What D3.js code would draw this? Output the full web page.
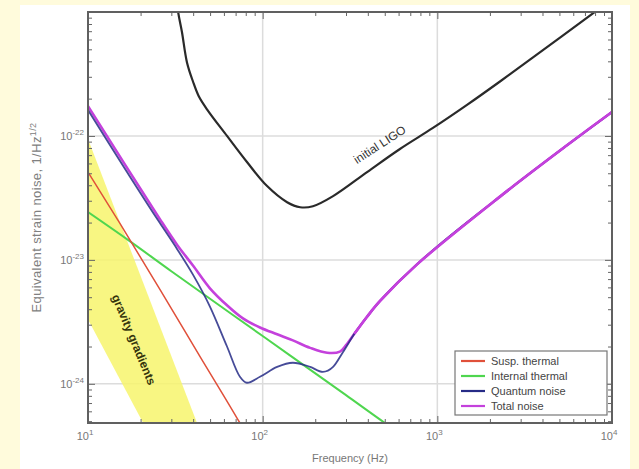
<!DOCTYPE html>
<html>
<head>
<meta charset="utf-8">
<script src="https://cdn.jsdelivr.net/npm/d3@7"></script>
<style>
  body { margin: 0; background: #fffbdc; }
  svg { display: block; font-family: "Liberation Sans", Arial, sans-serif; }
  .grid line { stroke: #dcdcdc; stroke-width: 1.5; }
  .axis path { display: none; }
  .axis line { stroke: #666; }
  .curve { fill: none; stroke-linejoin: round; stroke-linecap: round; }
</style>
</head>
<body>
<svg width="639" height="469"></svg>
<script>
// values (frequency in Hz, strain in 1/sqrt(Hz))
const initialFreq = [30, 32.7, 34.5, 36.9, 39.9, 43, 48, 62.5, 81.3, 106, 138, 164, 194, 253, 396, 611, 944, 1479, 2284, 3530, 8200, 9500];
const initialLIGO = [3e-21, 1.03e-21, 6.9e-22, 3.9e-22, 2.75e-22, 2.1e-22, 1.64e-22, 1.0e-22, 6.16e-23, 3.94e-23, 2.92e-23, 2.66e-23, 2.71e-23, 3.27e-23, 5.11e-23, 7.85e-23, 1.16e-22, 1.78e-22, 2.75e-22, 4.3e-22, 1.03e-21, 1.2e-21];

const totalFreq = [10, 25.8, 32.4, 39.9, 49.9, 62.5, 77.1, 96.5, 121, 149, 187, 234, 277, 300, 338, 396, 470, 765, 2284, 5525, 10000];
const totalNoise = [1.74e-22, 2.13e-23, 1.32e-23, 9.0e-24, 5.9e-24, 4.3e-24, 3.37e-24, 2.85e-24, 2.51e-24, 2.24e-24, 1.95e-24, 1.78e-24, 1.82e-24, 2.05e-24, 2.58e-24, 3.48e-24, 4.66e-24, 9.2e-24, 3.24e-23, 8.4e-23, 1.56e-22];

const quantumFreq = [10, 25.8, 32.4, 39.9, 49.9, 62.5, 74.1, 81.3, 96.5, 121, 149, 187, 221, 253, 288, 338, 396, 470, 765, 2284, 5525, 10000];
const quantumNoise = [1.62e-22, 1.98e-23, 1.22e-23, 7.6e-24, 4.2e-24, 2.0e-24, 1.14e-24, 1.02e-24, 1.14e-24, 1.37e-24, 1.48e-24, 1.37e-24, 1.25e-24, 1.37e-24, 1.8e-24, 2.58e-24, 3.48e-24, 4.66e-24, 9.2e-24, 3.24e-23, 8.4e-23, 1.56e-22];

const suspFreq = [10, 15.2, 25.8, 43.8, 74.1, 84.5];
const suspThermal = [5.11e-23, 1.98e-23, 5.77e-24, 1.66e-24, 4.83e-25, 3.5e-25];

const internalFreq = [10, 16.7, 30, 100, 300, 501, 600];
const internalThermal = [2.43e-23, 1.47e-23, 8.1e-24, 2.43e-24, 8.1e-25, 4.83e-25, 4.05e-25];

// gravity gradient band: upper edge then lower edge
const ggUpperFreq = [10, 42.1];
const ggUpper = [9.46e-23, 4.83e-25];
const ggLowerFreq = [10, 20.7];
const ggLower = [3.3e-24, 4.83e-25];

const legendNames = ["Susp. thermal", "Internal thermal", "Quantum noise", "Total noise"];
const legendColors = ["#e0503a", "#4fd64f", "#262b86", "#c441dc"];

const xDecades = [10, 100, 1000, 10000];
const xExps = ["1", "2", "3", "4"];
const yDecades = [1e-22, 1e-23, 1e-24];
const yExps = ["-22", "-23", "-24"];

const svg = d3.select("svg"),
    width = +svg.attr("width"),
    height = +svg.attr("height");

const mLeft = 88, mRight = 612, mTop = 12, mBottom = 423;

svg.append("rect").attr("width", width).attr("height", height).attr("fill", "#fffbdc");
svg.append("rect").attr("x", 20).attr("y", 5).attr("width", 610).attr("height", height - 5).attr("fill", "#fff");

const x = d3.scaleLog().domain([10, 1e4]).range([mLeft, mRight]);
const y = d3.scaleLog().domain([4.83e-25, 1e-21]).range([mBottom, mTop]);

svg.append("defs").append("clipPath").attr("id", "plot")
  .append("rect").attr("x", mLeft).attr("y", mTop).attr("width", mRight - mLeft).attr("height", mBottom - mTop);

// grid at the decades
const grid = svg.append("g").attr("class", "grid");
grid.selectAll(".gx").data(xDecades.slice(1, -1)).join("line")
    .attr("x1", d => x(d)).attr("x2", d => x(d)).attr("y1", mTop).attr("y2", mBottom);
grid.selectAll(".gy").data(yDecades).join("line")
    .attr("y1", d => y(d)).attr("y2", d => y(d)).attr("x1", mLeft).attr("x2", mRight);

const plot = svg.append("g").attr("clip-path", "url(#plot)");

// gravity gradients band
const bandPts = ggUpperFreq.map((f, i) => [f, ggUpper[i]])
    .concat(ggLowerFreq.map((f, i) => [f, ggLower[i]]).reverse());
plot.append("path")
    .attr("d", d3.line().x(d => x(d[0])).y(d => y(d[1]))(bandPts) + "Z")
    .attr("fill", "#f7f56c")
    .attr("opacity", 0.85);

plot.append("text")
    .attr("transform", "translate(133,340) rotate(67.5)")
    .attr("text-anchor", "middle")
    .attr("dominant-baseline", "middle")
    .attr("font-size", 12)
    .attr("font-weight", "bold")
    .attr("fill", "#35340c")
    .text("gravity gradients");

const line = d3.line().x(d => x(d[0])).y(d => y(d[1])).curve(d3.curveMonotoneX);
const smooth = d3.line().x(d => x(d[0])).y(d => y(d[1])).curve(d3.curveCatmullRom.alpha(0.5));
const zip = (fs, vs) => fs.map((f, i) => [f, vs[i]]);

plot.append("path").datum(zip(internalFreq, internalThermal)).attr("class", "curve")
    .attr("d", line).attr("stroke", legendColors[1]).attr("stroke-width", 2);
plot.append("path").datum(zip(suspFreq, suspThermal)).attr("class", "curve")
    .attr("d", line).attr("stroke", legendColors[0]).attr("stroke-width", 1.5);
plot.append("path").datum(zip(initialFreq, initialLIGO)).attr("class", "curve")
    .attr("d", smooth).attr("stroke", "#2a2a2a").attr("stroke-width", 2.2);
plot.append("path").datum(zip(totalFreq, totalNoise)).attr("class", "curve")
    .attr("d", smooth).attr("stroke", legendColors[3]).attr("stroke-width", 2.6);
plot.append("path").datum(zip(quantumFreq, quantumNoise)).attr("class", "curve")
    .attr("d", line).attr("stroke", legendColors[2]).attr("stroke-width", 1.8)
    .attr("opacity", 0.85);
// total noise on top where it equals quantum noise
plot.append("path").datum(zip(totalFreq, totalNoise).filter(d => d[0] >= 338)).attr("class", "curve")
    .attr("d", smooth).attr("stroke", legendColors[3]).attr("stroke-width", 2.6);

plot.append("text")
    .attr("transform", "translate(382,148) rotate(-33)")
    .attr("text-anchor", "middle")
    .attr("font-size", 12)
    .attr("fill", "#333")
    .text("initial LIGO");

// minor and major ticks on all four sides
const xt = x.ticks(), yt = y.ticks();
const isMajor = (d, dec) => dec.some(v => Math.abs(v / d - 1) < 1e-6);
svg.append("g").attr("class", "axis").attr("transform", `translate(0,${mBottom})`)
    .call(d3.axisBottom(x).tickValues(xt).tickFormat("").tickSize(-4))
    .selectAll(".tick line").filter(d => isMajor(d, xDecades)).attr("y2", -7);
svg.append("g").attr("class", "axis").attr("transform", `translate(0,${mTop})`)
    .call(d3.axisTop(x).tickValues(xt).tickFormat("").tickSize(-4))
    .selectAll(".tick line").filter(d => isMajor(d, xDecades)).attr("y2", 7);
svg.append("g").attr("class", "axis").attr("transform", `translate(${mLeft},0)`)
    .call(d3.axisLeft(y).tickValues(yt).tickFormat("").tickSize(-4))
    .selectAll(".tick line").filter(d => isMajor(d, yDecades)).attr("x2", 7);
svg.append("g").attr("class", "axis").attr("transform", `translate(${mRight},0)`)
    .call(d3.axisRight(y).tickValues(yt).tickFormat("").tickSize(-4))
    .selectAll(".tick line").filter(d => isMajor(d, yDecades)).attr("x2", -7);

svg.append("rect").attr("x", mLeft).attr("y", mTop).attr("width", mRight - mLeft).attr("height", mBottom - mTop)
    .attr("fill", "none").attr("stroke", "#606060").attr("stroke-width", 2);

// tick labels
const xl = svg.append("g").attr("fill", "#777").attr("font-size", 11);
xDecades.forEach((d, i) => {
  const t = xl.append("text").attr("x", x(d) - 3).attr("y", mBottom + 17).attr("text-anchor", "middle");
  t.append("tspan").text("10");
  t.append("tspan").attr("dy", -5).attr("font-size", 8).text(xExps[i]);
});
yDecades.forEach((d, i) => {
  const t = xl.append("text").attr("x", mLeft - 4).attr("y", y(d) + 4).attr("text-anchor", "end");
  t.append("tspan").text("10");
  t.append("tspan").attr("dy", -5).attr("font-size", 8).text(yExps[i]);
});

svg.append("text").attr("x", (mLeft + mRight) / 2).attr("y", 462).attr("text-anchor", "middle")
    .attr("font-size", 11).attr("fill", "#777").text("Frequency (Hz)");
const yTitle = svg.append("text").attr("transform", `translate(41,${(mTop + mBottom) / 2}) rotate(-90)`)
    .attr("text-anchor", "middle").attr("font-size", 13).attr("letter-spacing", 0.4).attr("fill", "#808080");
yTitle.append("tspan").text("Equivalent strain noise,  1/Hz");
yTitle.append("tspan").attr("dy", -5).attr("font-size", 9).text("1/2");

// legend
const lg = svg.append("g").attr("transform", "translate(455,351)");
lg.append("rect").attr("width", 152).attr("height", 64).attr("fill", "#fff").attr("stroke", "#777").attr("stroke-width", 1.2);
legendNames.forEach((n, i) => {
  const yy = 10 + i * 15;
  lg.append("line").attr("x1", 6).attr("x2", 30).attr("y1", yy).attr("y2", yy)
    .attr("stroke", legendColors[i]).attr("stroke-width", 2.2);
  lg.append("text").attr("x", 36).attr("y", yy + 4).attr("font-size", 11).attr("fill", "#444").text(n);
});
</script>
</body>
</html>
